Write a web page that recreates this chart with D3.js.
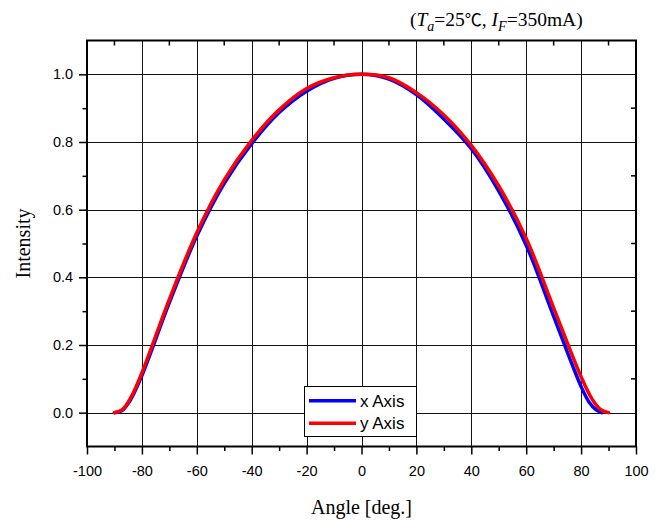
<!DOCTYPE html>
<html><head><meta charset="utf-8">
<script src="https://cdn.jsdelivr.net/npm/d3@7"></script>
<style>body{margin:0;background:#fff}svg{display:block}</style>
</head><body>
<svg id="c" width="663" height="521"></svg>
<script>
const xTicks = [-100,-80,-60,-40,-20,0,20,40,60,80,100];
const yTicks = [0.0,0.2,0.4,0.6,0.8,1.0];
const seriesNames = ["x Axis","y Axis"];
const xAngles = [-90,-87,-84,-80,-70,-60,-50,-40,-30,-20,-10,0,10,20,30,40,50,60,70,80,83,85.5,87.5];
const xValues = [0,0.008,0.04,0.11,0.325,0.522,0.678,0.795,0.887,0.95,0.988,1.0,0.986,0.94,0.868,0.78,0.655,0.495,0.285,0.077,0.03,0.008,0];
const yAngles = [-90,-87,-84,-80,-70,-60,-50,-40,-30,-20,-10,0,10,20,30,40,50,60,70,80,84,87,90];
const yValues = [0,0.01,0.045,0.118,0.335,0.532,0.688,0.805,0.895,0.958,0.99,1.0,0.99,0.946,0.88,0.79,0.67,0.515,0.31,0.106,0.04,0.01,0];

const svg = d3.select("#c");
const L=87, R=636, T=40.5, B=446.5;
const x = d3.scaleLinear().domain([-100,100]).range([L,R]);
const y = d3.scaleLinear().domain([-0.1,1.1]).range([B,T]);

// grid
const g = svg.append("g");
g.selectAll("line.gx").data(xTicks.filter(d=>d>-100&&d<100)).join("line")
  .attr("x1",d=>Math.round(x(d))+0.5).attr("x2",d=>Math.round(x(d))+0.5)
  .attr("y1",T).attr("y2",B).attr("stroke","#111").attr("stroke-width",1);
g.selectAll("line.gy").data(yTicks).join("line")
  .attr("y1",d=>Math.round(y(d))+0.5).attr("y2",d=>Math.round(y(d))+0.5)
  .attr("x1",L).attr("x2",R).attr("stroke","#111").attr("stroke-width",1);

// minor ticks inside top/right
const xMinor = d3.range(-90,100,20);
const yMinor = [0.1,0.3,0.5,0.7,0.9];
g.selectAll("line.tm").data(xMinor).join("line")
  .attr("x1",d=>x(d)).attr("x2",d=>x(d)).attr("y1",T).attr("y2",T+5)
  .attr("stroke","#000").attr("stroke-width",1.5);
g.selectAll("line.rm").data(yMinor).join("line")
  .attr("y1",d=>y(d)).attr("y2",d=>y(d)).attr("x1",R).attr("x2",R-5)
  .attr("stroke","#000").attr("stroke-width",1.5);

// axes
const xAxis = d3.axisBottom(x).tickValues(xTicks).tickSize(8).tickFormat(d=>String(d));
const gx = svg.append("g").attr("transform",`translate(0,${B})`).call(xAxis);
const xAxisMinor = d3.axisBottom(x).tickValues(xMinor).tickSize(4.5).tickFormat("");
svg.append("g").attr("transform",`translate(0,${B})`).call(xAxisMinor);
const yAxis = d3.axisLeft(y).tickValues(yTicks).tickSize(8).tickFormat(d3.format(".1f"));
const gy = svg.append("g").attr("transform",`translate(${L},0)`).call(yAxis);
const yAxisMinor = d3.axisLeft(y).tickValues(yMinor).tickSize(4.5).tickFormat("");
svg.append("g").attr("transform",`translate(${L},0)`).call(yAxisMinor);
svg.selectAll(".domain").remove();
svg.selectAll(".tick line").attr("stroke","#000").attr("stroke-width",1.5);
svg.selectAll(".tick text").attr("font-family","Liberation Sans, Arial, sans-serif").attr("font-size",14.5).attr("fill","#000");
gx.selectAll(".tick text").attr("dy","1.25em");
gy.selectAll(".tick text").attr("dx","-0.2em");

// frame
svg.append("rect").attr("x",L).attr("y",T).attr("width",R-L).attr("height",B-T)
  .attr("fill","none").attr("stroke","#000").attr("stroke-width",2);

// lines
const line = d3.line().curve(d3.curveCatmullRom.alpha(0.5));
const xData = xAngles.map((a,i)=>[x(a),y(xValues[i])]);
const yData = yAngles.map((a,i)=>[x(a),y(yValues[i])]);
svg.append("path").attr("d",line(xData)).attr("fill","none").attr("stroke","#0000ff").attr("stroke-width",3.5).attr("stroke-linecap","round");
svg.append("path").attr("d",line(yData)).attr("fill","none").attr("stroke","#ff0000").attr("stroke-width",3.5).attr("stroke-linecap","round");

// legend
const lg = svg.append("g");
lg.append("rect").attr("x",304.5).attr("y",386.5).attr("width",112).attr("height",50)
  .attr("fill","#fff").attr("stroke","#000").attr("stroke-width",1);
const colors=["#0000ff","#ff0000"];
seriesNames.forEach((n,i)=>{
  const yy = 400.7 + i*22.6;
  lg.append("line").attr("x1",309).attr("x2",356).attr("y1",yy).attr("y2",yy).attr("stroke",colors[i]).attr("stroke-width",3.5);
  lg.append("text").attr("x",360).attr("y",yy+6).text(n)
    .attr("font-family","Liberation Sans, Arial, sans-serif").attr("font-size",17).attr("fill","#000");
});

// axis titles
svg.append("text").attr("x",(L+R)/2).attr("y",514).attr("text-anchor","middle")
  .attr("font-family","Liberation Serif, Times New Roman, serif").attr("font-size",20).text("Angle [deg.]");
svg.append("text").attr("transform",`translate(30,${(T+B)/2}) rotate(-90)`).attr("text-anchor","middle")
  .attr("font-family","Liberation Serif, Times New Roman, serif").attr("font-size",20).text("Intensity");

// condition label
const t = svg.append("text").attr("x",410).attr("y",26)
  .attr("font-family","Liberation Serif, Times New Roman, serif").attr("font-size",19.5).attr("fill","#000");
t.append("tspan").text("(");
t.append("tspan").attr("font-style","italic").text("T");
t.append("tspan").attr("font-style","italic").attr("font-size",14).attr("dy",5).text("a");
t.append("tspan").attr("dy",-5).text("=25");
t.append("tspan").attr("font-family","Noto Sans CJK SC").attr("font-size",17).text("\u2103");
t.append("tspan").text(", ");
t.append("tspan").attr("font-style","italic").text("I");
t.append("tspan").attr("font-style","italic").attr("font-size",14).attr("dy",5).text("F");
t.append("tspan").attr("dy",-5).text("=350mA)");
</script>
</body></html>
